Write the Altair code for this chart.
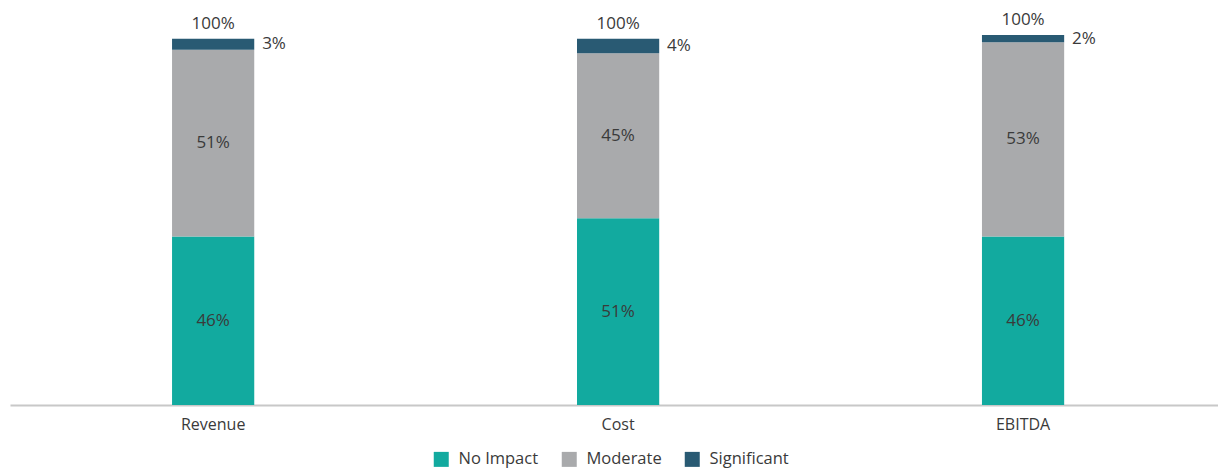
import altair as alt
import pandas as pd

categories = ["Revenue", "Cost", "EBITDA"]
series = ["No Impact", "Moderate", "Significant"]
no_impact = [46, 51, 46]
moderate = [51, 45, 53]
significant = [3, 4, 2]
total_labels = ["100%", "100%", "100%"]
colors = ["#12AA9F", "#A9AAAC", "#295A73"]

rows = []
for i, c in enumerate(categories):
    for j, (s, vals) in enumerate(zip(series, [no_impact, moderate, significant])):
        rows.append({"category": c, "series": s, "order": j, "value": vals[i],
                     "label": f"{vals[i]}%"})
df = pd.DataFrame(rows)
tot = pd.DataFrame({"category": categories,
                    "total": [a + b + c for a, b, c in zip(no_impact, moderate, significant)],
                    "label": total_labels})

FONT = "Open Sans"
TXT = "#3a3a3a"

xscale = alt.Scale(domain=categories, paddingInner=0.797, paddingOuter=0.39, align=0.513)
yscale = alt.Scale(domain=[0, 110])

base = alt.Chart(df)

bars = base.mark_bar().encode(
    x=alt.X("category:N", sort=categories, scale=xscale, title=None,
            axis=alt.Axis(labelAngle=0, ticks=False, domainColor="#c8c8c8", domainWidth=2,
                          labelFont=FONT, labelFontSize=16, labelColor=TXT, labelPadding=11)),
    y=alt.Y("value:Q", stack="zero", scale=yscale, axis=None),
    color=alt.Color("series:N", sort=series,
                    scale=alt.Scale(domain=series, range=colors),
                    legend=alt.Legend(title=None, orient="none", direction="horizontal",
                                      legendX=423, legendY=449,
                                      symbolType="square", symbolSize=225, symbolStrokeWidth=0,
                                      labelFont=FONT, labelFontSize=16.5, labelColor=TXT,
                                      columnPadding=22, labelOffset=9)),
    order=alt.Order("order:Q"),
)

stacked = base.transform_stack(
    stack="value", groupby=["category"], as_=["y0", "y1"],
    sort=[alt.SortField("order", order="ascending")]
).transform_calculate(mid="(datum.y0 + datum.y1) / 2")

inner = stacked.transform_filter("datum.order < 2").mark_text(
    font=FONT, fontSize=17, color=TXT, baseline="middle"
).encode(
    x=alt.X("category:N", sort=categories, scale=xscale),
    y=alt.Y("mid:Q", scale=yscale),
    text="label:N",
)

side = stacked.transform_filter("datum.order == 2").mark_text(
    font=FONT, fontSize=17, color=TXT, baseline="middle", align="left", dx=49
).encode(
    x=alt.X("category:N", sort=categories, scale=xscale),
    y=alt.Y("mid:Q", scale=yscale),
    text="label:N",
)

top = alt.Chart(tot).mark_text(
    font=FONT, fontSize=17, color=TXT, baseline="bottom", dy=-6
).encode(
    x=alt.X("category:N", sort=categories, scale=xscale),
    y=alt.Y("total:Q", scale=yscale),
    text="label:N",
)

chart = alt.layer(bars, inner, side, top).properties(
    width=1208, height=403,
    autosize=alt.AutoSizeParams(type="none"),
    padding={"left": 10, "top": 2, "right": 0, "bottom": 66},
).configure(background="white").configure_view(strokeWidth=0, stroke="transparent")

chart.save("out.html", embed_options={"renderer": "svg", "actions": False})
